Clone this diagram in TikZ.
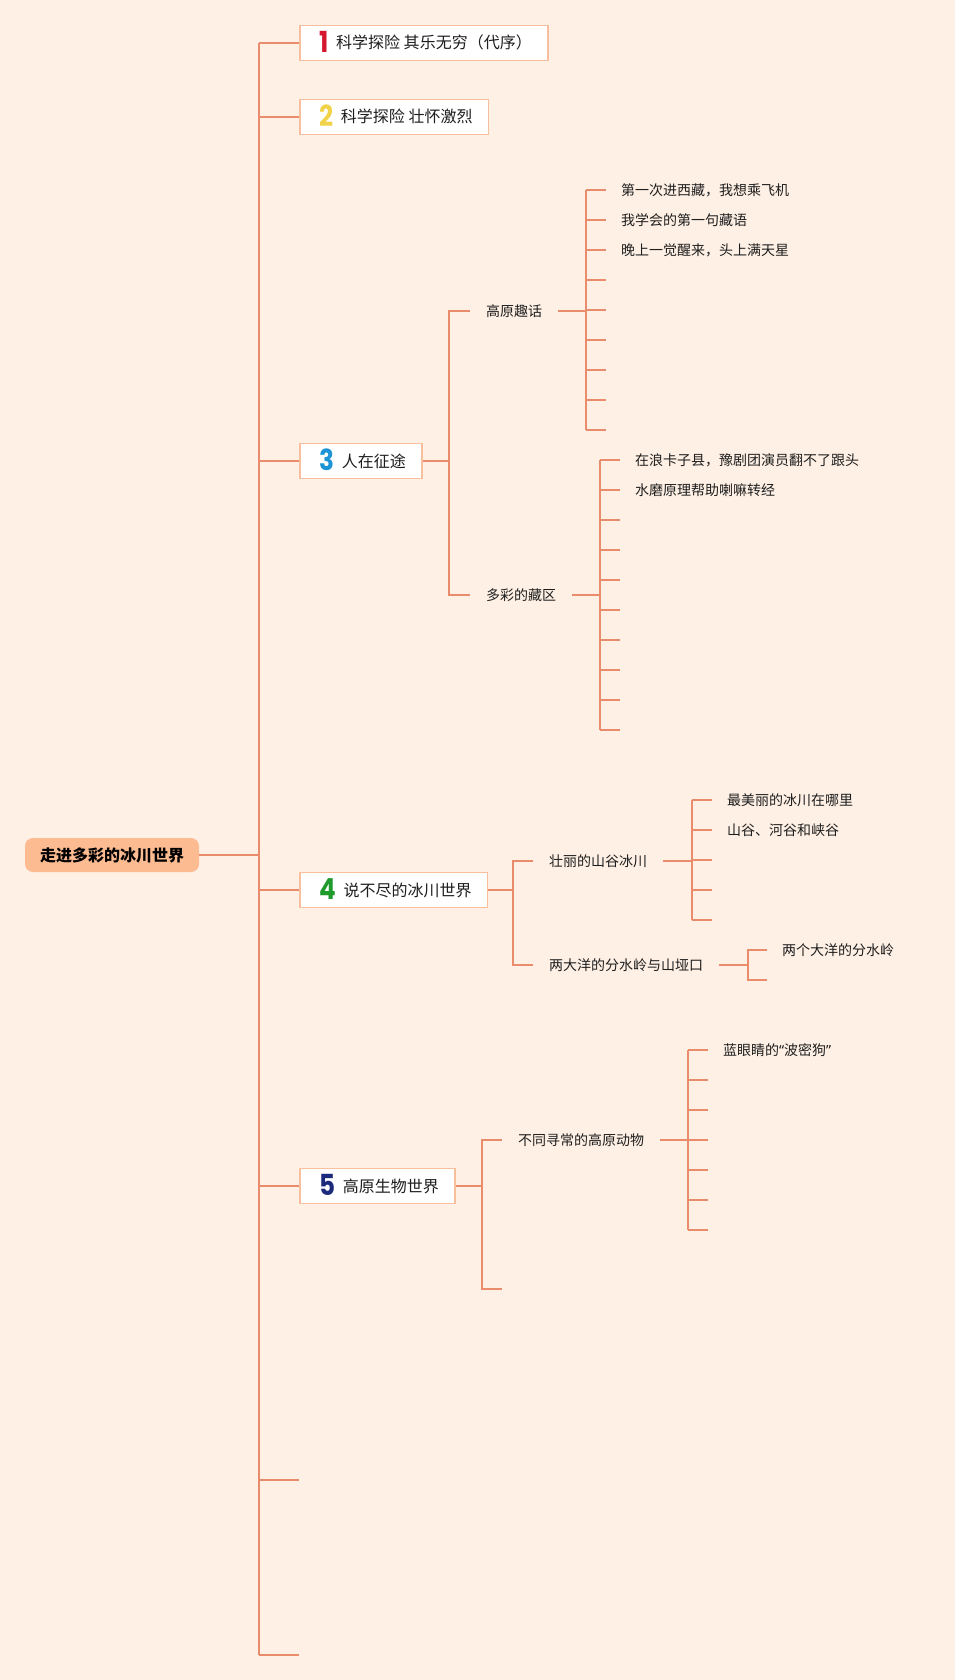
\documentclass[tikz,border=0pt]{standalone}
\usepackage{fontspec}
\setmainfont{Noto Sans CJK SC}
\newfontfamily\digitfont{Poppins}[FakeStretch=0.85]
\newfontfamily\latinq{Noto Sans}
\definecolor{bg}{HTML}{FEF0E5}
\definecolor{ln}{HTML}{EA8C6C}
\definecolor{bd}{HTML}{F7BF9C}
\definecolor{rootfill}{HTML}{FDBB92}
\definecolor{dA}{HTML}{D4182E}
\definecolor{dB}{HTML}{F1D34A}
\definecolor{dC}{HTML}{1E93D5}
\definecolor{dD}{HTML}{1F9A2C}
\definecolor{dE}{HTML}{1C2A7C}
\definecolor{tx}{HTML}{1E1E1E}
\tikzset{
  conn/.style={draw=ln, line width=2.3pt},
  topicbox/.style={draw=bd, line width=1.8pt, fill=white, minimum height=35pt, inner xsep=0pt, inner ysep=0pt, text height=18pt, text depth=6pt, anchor=west, font=\fontsize{16}{19}\selectfont, text=tx},
  rootbox/.style={fill=rootfill, rounded corners=8pt, minimum height=34pt, minimum width=174pt, inner sep=0pt, font=\fontsize{16}{19}\selectfont\bfseries, text=black},
  subtopic/.style={anchor=west, inner xsep=16pt, inner ysep=2pt, font=\fontsize{14}{17}\selectfont, text=tx},
  leaf/.style={anchor=west, inner xsep=15pt, inner ysep=2pt, font=\fontsize{14}{17}\selectfont, text=tx},
}
\newcommand{\dg}[2]{\hspace*{20pt}\raisebox{-3.5pt}{\digitfont\bfseries\fontsize{29}{29}\selectfont\color{#1}#2}\hspace{7pt}}
\newcommand{\rp}{\hspace*{16pt}}
\begin{document}
\begin{tikzpicture}[x=1pt,y=-1pt]
\fill[bg] (0,0) rectangle (955,1680);
\useasboundingbox (0,0) rectangle (955,1680);

% root and spine
\node[rootbox] (root) at (112,855) {走进多彩的冰川世界};
\coordinate (sT) at (259,43);
\coordinate (sB) at (259,1655);
\draw[conn] (root.east) -- (root.east -| sT);
\draw[conn] (sT) -- (sB);

% level 1
\node[topicbox] (t1) at (299,43) {\dg{dA}{1}科学探险 其乐无穷（代序）\rp};
\node[topicbox] (t2) at (299,117) {\dg{dB}{2}科学探险 壮怀激烈\rp};
\node[topicbox] (t3) at (299,461) {\dg{dC}{3}人在征途\rp};
\node[topicbox] (t4) at (299,890) {\dg{dD}{4}说不尽的冰川世界\rp};
\node[topicbox] (t5) at (299,1186) {\dg{dE}{5}高原生物世界\rp};
\coordinate (e1) at (299,1480);
\coordinate (e2) at (299,1655);
\foreach \n in {t1,t2,t3,t4,t5} { \draw[conn] (\n.west -| sT) -- (\n.west); }
\draw[conn] (e1 -| sT) -- (e1);
\draw[conn] (sB) -- (e2);

% ---- branch 3
\coordinate (v3) at (449,0);
\node[subtopic] (s31) at (470,311) {高原趣话};
\node[subtopic] (s32) at (470,595) {多彩的藏区};
\draw[conn] (t3.east) -- (t3.east -| v3);
\draw[conn] (s31.west) -| (v3 |- s32.west) -- (s32.west);

\coordinate (v31) at (586,0);
\foreach \k in {0,...,8} {
  \coordinate (a\k) at (606,{190+30*\k});
  \draw[conn] (a\k -| v31) -- (a\k);
}
\draw[conn] (s31.east) -- (s31.east -| v31);
\draw[conn] (a0 -| v31) -- (a8 -| v31);
\node[leaf] (n311) at (a0) {第一次进西藏，我想乘飞机};
\node[leaf] (n312) at (a1) {我学会的第一句藏语};
\node[leaf] (n313) at (a2) {晚上一觉醒来，头上满天星};

\coordinate (v32) at (600,0);
\foreach \k in {0,...,9} {
  \coordinate (b\k) at (620,{460+30*\k});
  \draw[conn] (b\k -| v32) -- (b\k);
}
\draw[conn] (s32.east) -- (s32.east -| v32);
\draw[conn] (b0 -| v32) -- (b9 -| v32);
\node[leaf] (n321) at (b0) {在浪卡子县，豫剧团演员翻不了跟头};
\node[leaf] (n322) at (b1) {水磨原理帮助喇嘛转经};

% ---- branch 4
\coordinate (v4) at (513,0);
\node[subtopic] (s41) at (533,861) {壮丽的山谷冰川};
\node[subtopic] (s42) at (533,965) {两大洋的分水岭与山垭口};
\draw[conn] (t4.east) -- (t4.east -| v4);
\draw[conn] (s41.west) -| (v4 |- s42.west) -- (s42.west);

\coordinate (v41) at (692,0);
\foreach \k in {0,...,4} {
  \coordinate (c\k) at (712,{800+30*\k});
  \draw[conn] (c\k -| v41) -- (c\k);
}
\draw[conn] (s41.east) -- (s41.east -| v41);
\draw[conn] (c0 -| v41) -- (c4 -| v41);
\node[leaf] (n411) at (c0) {最美丽的冰川在哪里};
\node[leaf] (n412) at (c1) {山谷、河谷和峡谷};

\coordinate (v42) at (748,0);
\coordinate (d0) at (767,950);
\coordinate (d1) at (767,980);
\draw[conn] (s42.east) -- (s42.east -| v42);
\draw[conn] (d0) -| (v42 |- d1) -- (d1);
\node[leaf] (n421) at (d0) {两个大洋的分水岭};

% ---- branch 5
\coordinate (v5) at (482,0);
\node[subtopic] (s51) at (502,1140) {不同寻常的高原动物};
\coordinate (e51) at (502,1289);
\draw[conn] (t5.east) -- (t5.east -| v5);
\draw[conn] (s51.west) -| (v5 |- e51) -- (e51);

\coordinate (v51) at (688,0);
\foreach \k in {0,...,6} {
  \coordinate (f\k) at (708,{1050+30*\k});
  \draw[conn] (f\k -| v51) -- (f\k);
}
\draw[conn] (s51.east) -- (s51.east -| v51);
\draw[conn] (f0 -| v51) -- (f6 -| v51);
\node[leaf] (n511) at (f0) {蓝眼睛的{\latinq “}波密狗{\latinq ”}};
\end{tikzpicture}
\end{document}
